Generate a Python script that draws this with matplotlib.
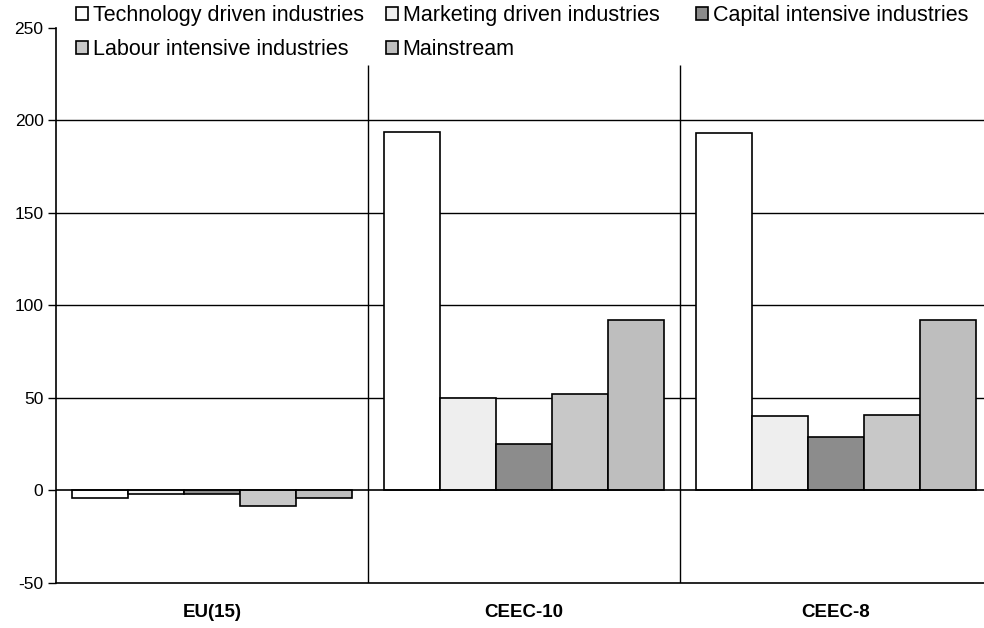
import matplotlib
matplotlib.use('Agg')
import matplotlib.pyplot as plt
from matplotlib.patches import Patch
import numpy as np

plt.rcParams['font.family'] = ['Liberation Sans', 'DejaVu Sans']
plt.rcParams['axes.unicode_minus'] = False

# data
regions = ['EU(15)', 'CEEC-10', 'CEEC-8']
series = ['Technology driven industries', 'Marketing driven industries',
          'Capital intensive industries', 'Labour intensive industries',
          'Mainstream']
tech = [-4, 194, 193]
marketing = [-2, 50, 40]
capital = [-2, 25, 29]
labour = [-8.5, 52, 41]
mainstream = [-4, 92, 92]
yticks = [-50, 0, 50, 100, 150, 200, 250]

values = [tech, marketing, capital, labour, mainstream]
colors = ['#ffffff', '#eeeeee', '#8c8c8c', '#c8c8c8', '#bebebe']

fig = plt.figure(figsize=(9.84, 6.28), dpi=100)
ax = fig.add_axes([56/984, 1-583/628, (992-56)/984, (583-28)/628])

x = np.arange(len(regions))
w = 0.18
for i, vals in enumerate(values):
    ax.bar(x + (i - 2) * w, vals, w, color=colors[i], edgecolor='black',
           linewidth=1.2, zorder=3)

ax.set_xlim(-0.5, 2.5)
ax.set_ylim(-50, 250)

# gridlines and category separators
for yv in [50, 100, 150, 200]:
    ax.axhline(yv, color='black', linewidth=1, zorder=1)
ax.axhline(0, color='black', linewidth=1.2, zorder=4)
ax.vlines([0.5, 1.5], -50, 230, color='black', linewidth=1, zorder=1)

ax.set_yticks(yticks)
ax.tick_params(axis='y', length=6, width=1, labelsize=12.5, pad=3)
ax.set_xticks(x)
ax.set_xticklabels(regions, fontweight='bold', fontsize=13.5)
ax.tick_params(axis='x', length=0, pad=15)

for s in ['top', 'right']:
    ax.spines[s].set_visible(False)
ax.spines['left'].set_linewidth(1.2)
ax.spines['bottom'].set_linewidth(1.2)

# legend placed as three columns
cols = [([0, 3], 76), ([1, 4], 386), ([2], 696)]
for idx, xpx in cols:
    handles = [Patch(facecolor=colors[k], edgecolor='black', linewidth=1.2)
               for k in idx]
    lab = [series[k] for k in idx]
    fig.legend(handles, lab, loc='upper left',
               bbox_to_anchor=(xpx/984, 1-5/628), bbox_transform=fig.transFigure,
               frameon=False, fontsize=15.5, handlelength=0.55,
               handleheight=0.55, handletextpad=0.22, labelspacing=0.6,
               borderpad=0, borderaxespad=0)

fig.savefig('out.png', dpi=100)
